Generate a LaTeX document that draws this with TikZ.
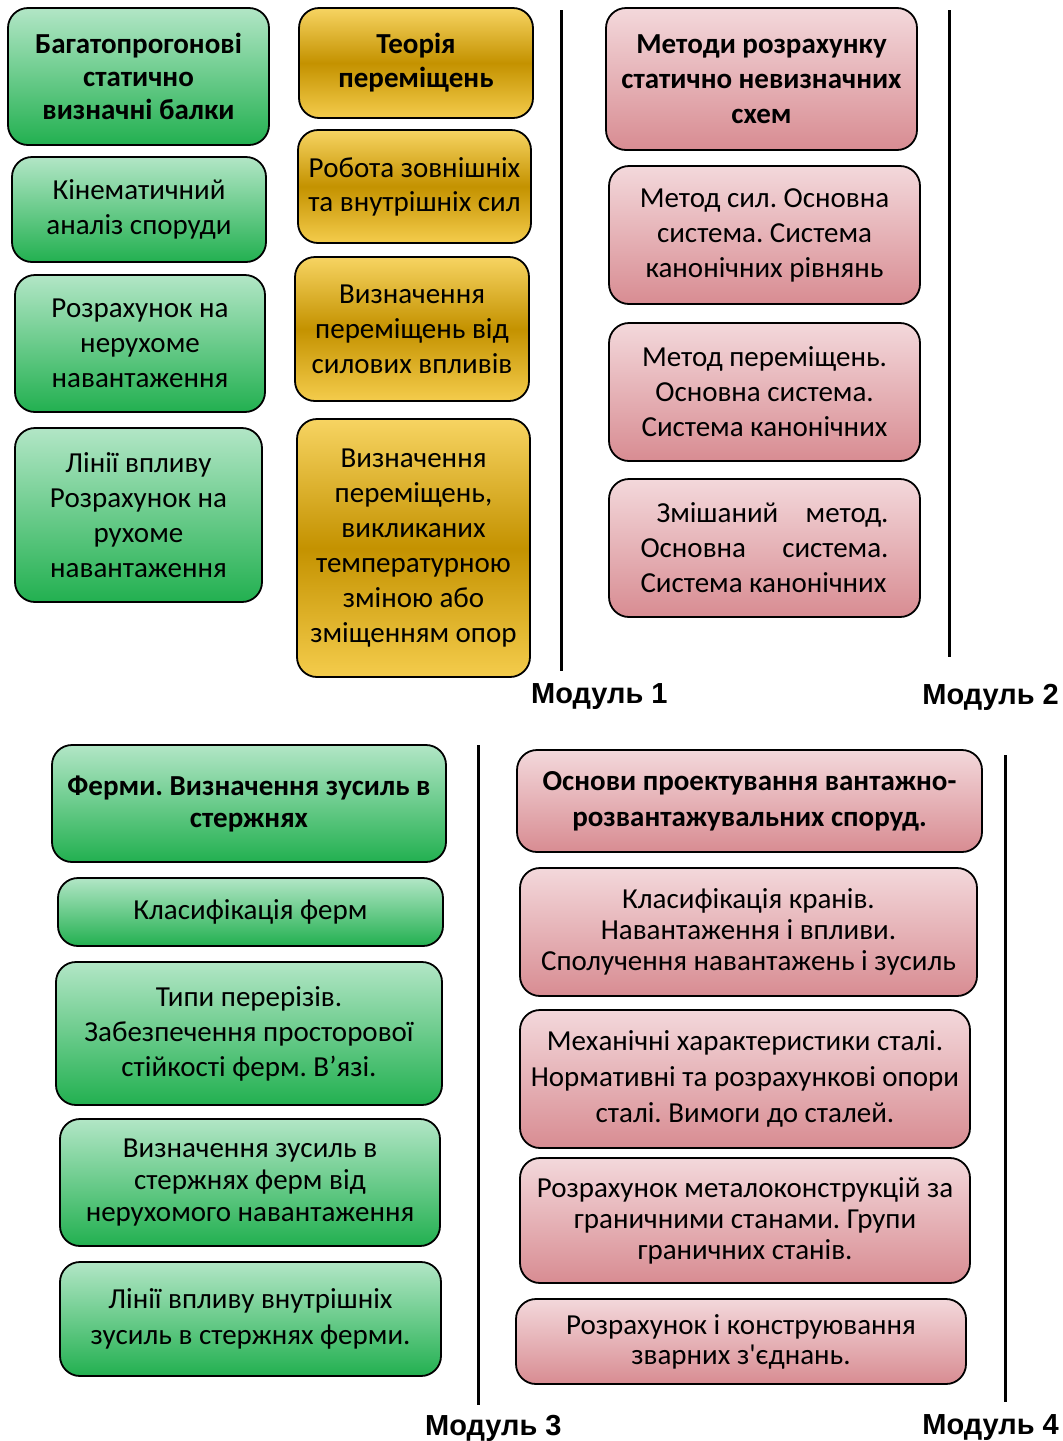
\documentclass[tikz,border=0pt]{standalone}
\usepackage{fontspec}
\setmainfont{Carlito}
\newfontfamily\modfont{Liberation Sans}
\frenchspacing
\definecolor{grnT}{RGB}{178,230,198}
\definecolor{grnB}{RGB}{34,176,80}
\definecolor{gldT}{RGB}{247,212,98}
\definecolor{gldM}{RGB}{196,146,0}
\definecolor{gldB}{RGB}{244,204,76}
\definecolor{pnkT}{RGB}{243,216,219}
\definecolor{pnkB}{RGB}{216,140,146}
\tikzset{
  basebox/.style={draw=black, line width=1.8pt, rounded corners=20pt, align=center, inner sep=2pt,
     font=\fontsize{29}{35}\selectfont},
  grn/.style={basebox, top color=grnT, bottom color=grnB},
  gld/.style={basebox, top color=gldT, bottom color=gldB, middle color=gldM},
  pnk/.style={basebox, top color=pnkT, bottom color=pnkB},
  hd/.style={font=\fontsize{29}{34}\selectfont\bfseries},
  tight/.style={font=\fontsize{29}{32}\selectfont},
  tighter/.style={font=\fontsize{29}{31}\selectfont},
  modlbl/.style={font=\modfont\fontsize{29}{32}\selectfont\bfseries, inner sep=0pt},
  sep/.style={line width=3pt, black}
}
\newcommand\mybox[7]{%
  \pgfmathsetmacro\bw{#5-#3}\pgfmathsetmacro\bh{#6-#4}%
  \node[#2, minimum width=\bw pt, minimum height=\bh pt] (#1) at ({(#3+#5)/2},{(#4+#6)/2}) {#7};}
\begin{document}
\begin{tikzpicture}[x=1pt,y=-1pt]
\useasboundingbox (0,0) rectangle (1063,1441);
% column 1
\mybox{a1}{grn,hd,font=\fontsize{29}{33}\selectfont\bfseries}{8}{8}{269}{145}{Багатопрогонові\\статично\\визначні балки}
\mybox{a2}{grn}{12}{157}{266}{262}{Кінематичний\\аналіз споруди}
\mybox{a3}{grn}{15}{275}{265}{412}{Розрахунок на\\нерухоме\\навантаження}
\mybox{a4}{grn}{15}{428}{262}{602}{Лінії впливу\\Розрахунок на\\рухоме\\навантаження}
% column 2
\mybox{b1}{gld,hd}{299}{8}{533}{118}{Теорія\\переміщень}
\mybox{b2}{gld,font=\fontsize{29}{34}\selectfont}{298}{130}{531}{243}{Робота зовнішніх\\та внутрішніх сил}
\mybox{b3}{gld}{295}{257}{529}{401}{Визначення\\переміщень від\\силових впливів}
\mybox{b4}{gld}{297}{419}{530}{677}{Визначення\\переміщень,\\викликаних\\температурною\\зміною або\\зміщенням опор}
% column 3
\mybox{c1}{pnk,font=\fontsize{29}{35}\selectfont\bfseries}{606}{8}{917}{150}{Методи розрахунку\\статично невизначних\\схем}
\mybox{c2}{pnk}{609}{166}{920}{304}{Метод сил. Основна\\система. Система\\канонічних рівнянь}
\mybox{c3}{pnk}{609}{323}{920}{461}{Метод переміщень.\\Основна система.\\Система канонічних}
\mybox{c4}{pnk,align=left}{609}{479}{920}{617}{\hspace*{16pt}\makebox[232pt][s]{Змішаний метод.}\\\makebox[248pt][s]{Основна система.}\\Система канонічних}
% separators top
\coordinate (l1t) at (561,10); \coordinate (l1b) at (561,671);
\draw[sep] (l1t) -- (l1b);
\coordinate (l2t) at (949,10); \coordinate (l2b) at (949,657);
\draw[sep] (l2t) -- (l2b);
\node[modlbl, anchor=west] (m1) at (531,697) {Модуль 1};
\node[modlbl, anchor=east] (m2) at (1059,697) {Модуль 2};
% bottom left
\mybox{d1}{grn,font=\fontsize{29}{32}\selectfont\bfseries}{52}{745}{446}{862}{Ферми. Визначення зусиль в\\стержнях}
\mybox{d2}{grn}{58}{878}{443}{946}{Класифікація ферм}
\mybox{d3}{grn}{56}{962}{442}{1105}{Типи перерізів.\\Забезпечення просторової\\стійкості ферм. В’язі.}
\mybox{d4}{grn,tight}{60}{1119}{440}{1246}{Визначення зусиль в\\стержнях ферм від\\нерухомого навантаження}
\mybox{d5}{grn,font=\fontsize{29}{36}\selectfont}{60}{1262}{441}{1376}{Лінії впливу внутрішніх\\зусиль в стержнях ферми.}
% bottom right
\mybox{e1}{pnk,font=\fontsize{29}{36}\selectfont\bfseries}{517}{750}{982}{852}{Основи проектування вантажно-\\розвантажувальних споруд.}
\mybox{e2}{pnk,tighter}{520}{868}{977}{996}{Класифікація кранів.\\Навантаження і впливи.\\Сполучення навантажень і зусиль}
\mybox{e3}{pnk,font=\fontsize{29}{36}\selectfont}{520}{1010}{970}{1148}{Механічні характеристики сталі.\\Нормативні та розрахункові опори\\сталі. Вимоги до сталей.}
\mybox{e4}{pnk,tighter}{520}{1158}{970}{1283}{Розрахунок металоконструкцій за\\граничними станами. Групи\\граничних станів.}
\mybox{e5}{pnk,font=\fontsize{29}{30}\selectfont}{516}{1299}{966}{1384}{Розрахунок і конструювання\\зварних з\textquotesingle єднань.}
% separators bottom
\coordinate (l3t) at (478,745); \coordinate (l3b) at (478,1405);
\draw[sep] (l3t) -- (l3b);
\coordinate (l4t) at (1005,755); \coordinate (l4b) at (1005,1402);
\draw[sep] (l4t) -- (l4b);
\node[modlbl, anchor=west] (m3) at (425,1428) {Модуль 3};
\node[modlbl, anchor=east] (m4) at (1059,1428) {Модуль 4};
\end{tikzpicture}
\end{document}
